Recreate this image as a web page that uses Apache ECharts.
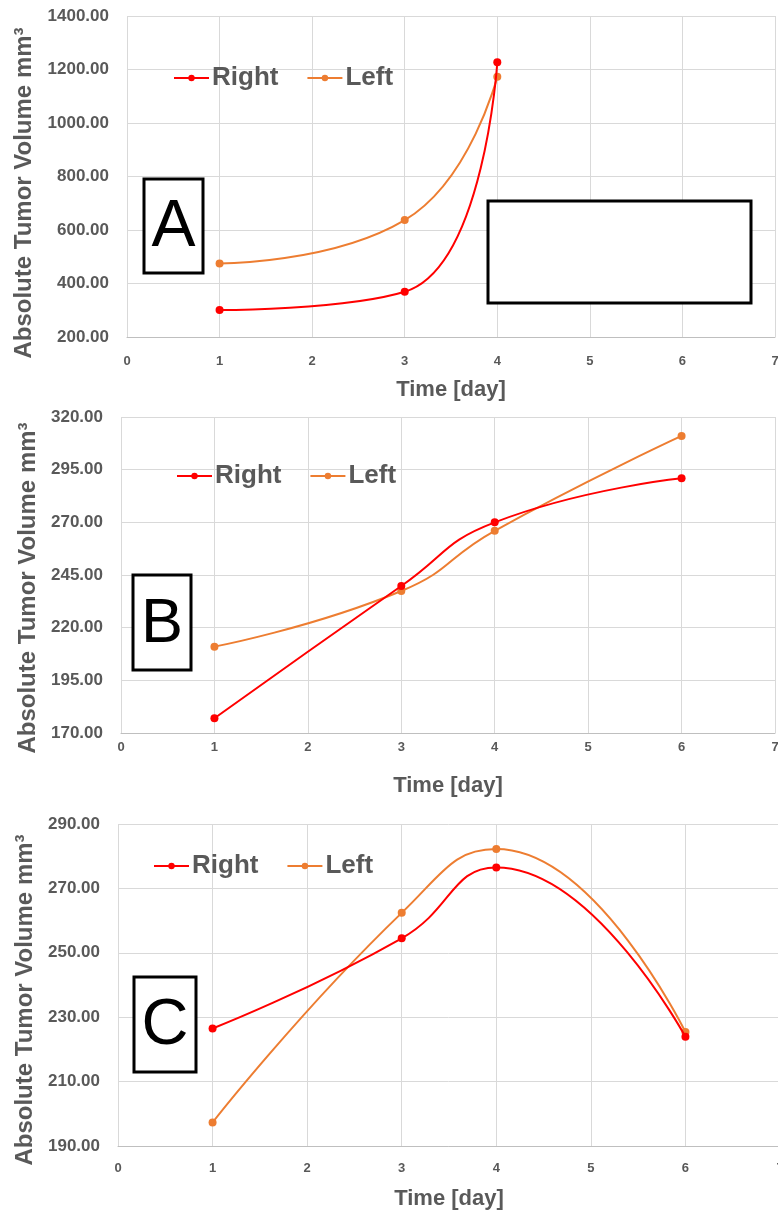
<!DOCTYPE html>
<html><head><meta charset="utf-8">
<script src="https://cdn.jsdelivr.net/npm/echarts@6/dist/echarts.min.js"></script>
<style>html,body{margin:0;padding:0;background:#fff;overflow:hidden}#c{width:778px;height:1210px}</style>
</head><body><div id="c"></div>
<script>
// ---- data ----
const daysA = [1, 3, 4];
const rightA = [301, 369, 1227];
const leftA = [475, 637, 1173];

const daysB = [1, 3, 4, 6];
const rightB = [177, 239.8, 270, 290.9];
const leftB = [211, 237.4, 266, 311];

const daysC = [1, 3, 4, 6];
const rightC = [226.5, 254.5, 276.5, 223.9];
const leftC = [197.3, 262.4, 282.2, 225.4];

const xTicks = [0, 1, 2, 3, 4, 5, 6, 7];
const yTicksA = [200, 400, 600, 800, 1000, 1200, 1400];
const yTicksB = [170, 195, 220, 245, 270, 295, 320];
const yTicksC = [190, 210, 230, 250, 270, 290];

const seriesNames = ['Right', 'Left'];
const panelLetters = ['A', 'B', 'C'];
const yTitle = 'Absolute Tumor Volume mm³';
const xTitle = 'Time [day]';

// ---- styles ----
const RED = '#FF0000', ORANGE = '#ED7D31', TXT = '#595959', GRIDC = '#d9d9d9';
const FONT = 'Liberation Sans, Arial, sans-serif';

const zip = (xs, ys) => xs.map((x, i) => [x, ys[i]]);

const grids = [
  {left: 127, top: 16, width: 648, height: 321, outerBoundsMode: 'none', containLabel: false},
  {left: 121, top: 417, width: 654, height: 316, outerBoundsMode: 'none', containLabel: false},
  {left: 118, top: 824, width: 662, height: 322, outerBoundsMode: 'none', containLabel: false}
];
const yTicksAll = [yTicksA, yTicksB, yTicksC];
const xLabelMargin = [18, 8, 16];
const yNameGap = [90, 79, 80];
const yNameShift = [33, 26, 30];

function xAxis(i) {
  return {
    type: 'value', gridIndex: i, min: xTicks[0], max: xTicks[xTicks.length - 1], interval: 1,
    name: xTitle, nameLocation: 'middle', nameGap: 42,
    nameTextStyle: {fontFamily: FONT, fontWeight: 'bold', fontSize: 22, color: TXT},
    axisLine: {show: true, lineStyle: {color: '#bfbfbf', width: 1}},
    axisTick: {show: false},
    axisLabel: {fontFamily: FONT, fontWeight: 'bold', fontSize: 13, color: TXT, margin: xLabelMargin[i]},
    splitLine: {show: true, lineStyle: {color: GRIDC, width: 1}}
  };
}
function yAxis(i) {
  const t = yTicksAll[i];
  return {
    type: 'value', gridIndex: i, min: t[0], max: t[t.length - 1], interval: t[1] - t[0],
    name: yTitle, nameLocation: 'middle', nameRotate: 90, nameGap: yNameGap[i],
    nameTextStyle: {fontFamily: FONT, fontWeight: 'bold', fontSize: 24, color: TXT, padding: [0, yNameShift[i], 0, 0]},
    axisLine: {show: false}, axisTick: {show: false},
    axisLabel: {fontFamily: FONT, fontWeight: 'bold', fontSize: 17, color: TXT, margin: 18,
      formatter: v => v.toFixed(2)},
    splitLine: {show: true, lineStyle: {color: GRIDC, width: 1}}
  };
}
function line(name, color, data, i) {
  return {
    name, type: 'line', xAxisIndex: i, yAxisIndex: i, data, smooth: 0.5,
    symbol: 'circle', symbolSize: 8,
    lineStyle: {color, width: 2}, itemStyle: {color}, z: name === 'Right' ? 3 : 2
  };
}
const series = [
  line('Right', RED, zip(daysA, rightA), 0),
  line('Left', ORANGE, zip(daysA, leftA), 0),
  line('Right', RED, zip(daysB, rightB), 1),
  line('Left', ORANGE, zip(daysB, leftB), 1),
  line('Right', RED, zip(daysC, rightC), 2),
  line('Left', ORANGE, zip(daysC, leftC), 2)
];

const legendPos = [{left: 173, top: 65}, {left: 176, top: 463}, {left: 153, top: 853}];
const legends = legendPos.map(p => ({
  data: seriesNames, left: p.left, top: p.top, padding: 0, itemWidth: 35, itemHeight: 8, itemGap: 28,
  selectedMode: false,
  textStyle: {fontFamily: FONT, fontWeight: 'bold', fontSize: 26, color: TXT, padding: [0, 0, 0, -2]}
}));

const boxes = [
  {x: 144, y: 179, w: 59, h: 94, fs: 66},
  {x: 133, y: 575, w: 58, h: 95, fs: 63},
  {x: 134, y: 977, w: 62, h: 95, fs: 65}
];
const graphic = [];
boxes.forEach((b, i) => {
  graphic.push({type: 'rect', shape: {x: b.x, y: b.y, width: b.w, height: b.h},
    style: {fill: '#fff', stroke: '#000', lineWidth: 3}, z: 10});
  graphic.push({type: 'text', x: b.x + b.w / 2, y: b.y + b.h / 2 + 2,
    style: {text: panelLetters[i], fontFamily: FONT, fontSize: b.fs, fill: '#000',
      textAlign: 'center', textVerticalAlign: 'middle'}, z: 11});
});
graphic.push({type: 'rect', shape: {x: 488, y: 201, width: 263, height: 102},
  style: {fill: '#fff', stroke: '#000', lineWidth: 3}, z: 10});

const chart = echarts.init(document.getElementById('c'), null, {renderer: 'canvas'});
chart.setOption({
  animation: false,
  backgroundColor: '#fff',
  grid: grids,
  xAxis: [0, 1, 2].map(xAxis),
  yAxis: [0, 1, 2].map(yAxis),
  legend: legends,
  series,
  graphic
});
</script></body></html>
